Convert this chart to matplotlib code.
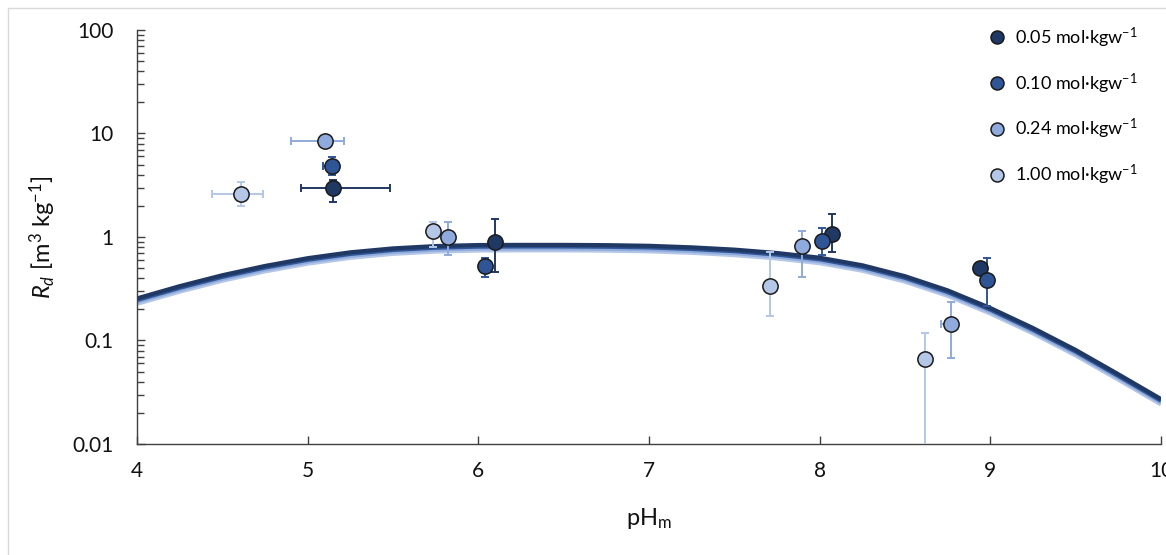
import numpy as np
import matplotlib
matplotlib.use("Agg")
import matplotlib.pyplot as plt
from matplotlib.patches import Rectangle

plt.rcParams['font.family'] = ['Lato', 'DejaVu Sans']
plt.rcParams['mathtext.fontset'] = 'custom'
plt.rcParams['mathtext.rm'] = 'Lato'
plt.rcParams['mathtext.it'] = 'Lato:italic'

# model curves (pH grid, Rd in m3/kg)
ph_grid = [4.0, 4.25, 4.5, 4.75, 5.0, 5.25, 5.5, 5.75, 6.0, 6.25, 6.5, 6.75, 7.0,
           7.25, 7.5, 7.75, 8.0, 8.25, 8.5, 8.75, 9.0, 9.25, 9.5, 9.75, 10.0]
curve_005 = [0.255, 0.335, 0.427, 0.525, 0.624, 0.711, 0.776, 0.817, 0.836, 0.839, 0.839, 0.834, 0.822,
             0.794, 0.755, 0.70, 0.631, 0.533, 0.418, 0.305, 0.206, 0.132, 0.0810, 0.0472, 0.0272]
curve_010 = [0.246, 0.323, 0.412, 0.507, 0.602, 0.686, 0.749, 0.788, 0.807, 0.810, 0.810, 0.805, 0.793,
             0.766, 0.729, 0.676, 0.609, 0.514, 0.403, 0.294, 0.199, 0.127, 0.0782, 0.0455, 0.0262]
curve_024 = [0.236, 0.310, 0.395, 0.486, 0.577, 0.658, 0.718, 0.756, 0.773, 0.776, 0.776, 0.771, 0.760,
             0.734, 0.698, 0.648, 0.584, 0.493, 0.387, 0.282, 0.191, 0.122, 0.0749, 0.0437, 0.0252]
curve_100 = [0.226, 0.296, 0.378, 0.465, 0.552, 0.629, 0.687, 0.723, 0.740, 0.743, 0.743, 0.738, 0.727,
             0.703, 0.668, 0.620, 0.558, 0.472, 0.370, 0.270, 0.182, 0.117, 0.0717, 0.0418, 0.0241]

# measured points: value, lower/upper bounds in y and x
x_005 = [5.15, 6.10, 8.07, 8.94]
y_005 = [2.95, 0.90, 1.08, 0.50]
ylo_005 = [2.18, 0.46, 0.72, 0.50]
yhi_005 = [3.55, 1.48, 1.67, 0.50]
xlo_005 = [4.96, 6.10, 8.07, 8.94]
xhi_005 = [5.48, 6.10, 8.07, 8.94]

x_010 = [5.14, 6.04, 8.015, 8.98]
y_010 = [4.85, 0.52, 0.92, 0.38]
ylo_010 = [3.98, 0.41, 0.67, 0.215]
yhi_010 = [5.97, 0.63, 1.23, 0.62]
xlo_010 = [5.09, 6.04, 8.015, 8.98]
xhi_010 = [5.18, 6.04, 8.015, 8.98]

x_024 = [5.10, 5.82, 7.895, 8.77]
y_024 = [8.5, 1.0, 0.81, 0.143]
ylo_024 = [8.5, 0.67, 0.41, 0.067]
yhi_024 = [8.5, 1.40, 1.13, 0.237]
xlo_024 = [4.90, 5.82, 7.895, 8.71]
xhi_024 = [5.21, 5.82, 7.895, 8.77]

x_100 = [4.61, 5.735, 7.71, 8.62]
y_100 = [2.62, 1.14, 0.336, 0.066]
ylo_100 = [2.0, 0.80, 0.174, 0.005]
yhi_100 = [3.42, 1.40, 0.72, 0.119]
xlo_100 = [4.44, 5.735, 7.71, 8.62]
xhi_100 = [4.74, 5.735, 7.71, 8.62]

labels = ['0.05 mol·kgw$^{-1}$', '0.10 mol·kgw$^{-1}$',
          '0.24 mol·kgw$^{-1}$', '1.00 mol·kgw$^{-1}$']
colors = ['#203864', '#2f5597', '#8faadc', '#b4c7e7']

fig = plt.figure(figsize=(11.66, 5.55), dpi=100)
ax = fig.add_axes([0.1175, 0.2, 0.8782, 0.746])

# thin chart border like the spreadsheet frame
fig.patches.append(Rectangle((8 / 1166, -0.01), 1.0, 1 - 8 / 555 + 0.01, transform=fig.transFigure,
                             fill=False, edgecolor='#d9d9d9', linewidth=1.0))

curves = [curve_100, curve_024, curve_010, curve_005]
for c, col in zip(curves, colors[::-1]):
    ax.plot(ph_grid, c, color=col, linewidth=3.0, zorder=2, solid_capstyle='butt')

series = [
    (x_005, y_005, ylo_005, yhi_005, xlo_005, xhi_005),
    (x_010, y_010, ylo_010, yhi_010, xlo_010, xhi_010),
    (x_024, y_024, ylo_024, yhi_024, xlo_024, xhi_024),
    (x_100, y_100, ylo_100, yhi_100, xlo_100, xhi_100),
]
for (xs, ys, ylo, yhi, xlo, xhi), col, lab in zip(series, colors, labels):
    xs = np.array(xs); ys = np.array(ys)
    yerr = [ys - np.array(ylo), np.array(yhi) - ys]
    xerr = [xs - np.array(xlo), np.array(xhi) - xs]
    ax.errorbar(xs, ys, yerr=yerr, xerr=xerr, fmt='none', ecolor=col, elinewidth=1.4,
                capsize=3, capthick=1.4, zorder=3)
    ax.plot(xs, ys, 'o', markersize=11, markerfacecolor=col, markeredgecolor='#1a1a1a',
            markeredgewidth=1.1, linestyle='none', zorder=4, label=lab)

ax.set_yscale('log')
ax.set_xlim(4, 10)
ax.set_ylim(0.01, 100)
ax.set_yticks([0.01, 0.1, 1, 10, 100])
ax.set_yticklabels(['0.01', '0.1', '1', '10', '100'])
ax.set_xticks([4, 5, 6, 7, 8, 9, 10])

for s in ['top', 'right']:
    ax.spines[s].set_visible(False)
for s in ['left', 'bottom']:
    ax.spines[s].set_color('#404040')
    ax.spines[s].set_linewidth(1.0)

ax.tick_params(axis='both', which='major', direction='in', length=6, width=1,
               color='#404040', labelsize=15, labelcolor='#111111')
ax.tick_params(axis='y', which='minor', direction='in', length=5, width=1, color='#404040')
ax.tick_params(axis='x', which='major', pad=12)
ax.tick_params(axis='y', which='major', pad=17)

ax.set_xlabel('pH$_\\mathrm{m}$', fontsize=17, labelpad=18, color='#111111')
ax.set_ylabel('$R_d$ [m$^3$ kg$^{-1}$]', fontsize=17, labelpad=10, color='#111111')

leg = ax.legend(loc='upper right', bbox_to_anchor=(0.993, 1.05), frameon=False, fontsize=13,
                labelspacing=1.2, handletextpad=0.25, markerscale=0.85, handlelength=1.5)

fig.savefig('out.png', dpi=100)
